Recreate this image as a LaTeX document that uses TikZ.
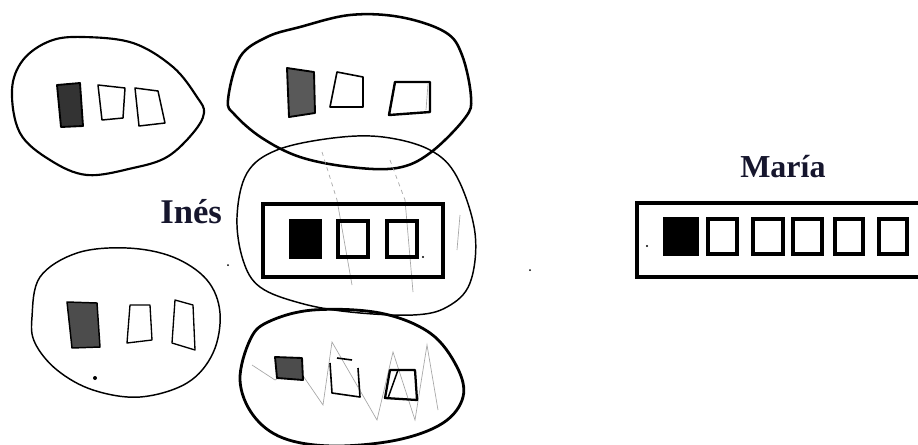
\documentclass[tikz,border=0pt]{standalone}
\usepackage{fontspec}
\setmainfont{Liberation Serif}
\definecolor{navy}{RGB}{22,22,45}
\begin{document}
\begin{tikzpicture}[x=0.75pt,y=-0.75pt,
  loop/.style={draw=black,line width=1.6pt,line join=round},
  thinloop/.style={draw=black,line width=1.1pt,line join=round},
  sq/.style={draw=black,line width=1.4pt,line join=round},
  fsq/.style={draw=black,line width=1.4pt,fill=black!80,line join=round},
  faint/.style={draw=black!35,line width=0.5pt},
  frame/.style={draw=black,line width=3pt},
  box/.style={draw=black,line width=2.6pt},
  fbox/.style={draw=black,line width=2.6pt,fill=black},
  lbl/.style={font=\fontsize{24}{28}\selectfont\bfseries,text=navy,inner sep=0pt}]
\useasboundingbox (0,0) rectangle (918,444);
\clip (0,0) rectangle (918,444);
\fill[white] (0,0) rectangle (918,444);

% ---- top-left loop
\draw[loop] plot[smooth cycle,tension=0.6] coordinates {(83,37) (133,43) (173,67) (197,97) (204,113) (193,133) (167,157) (133,168) (87,175) (50,160) (20,133) (12,90) (23,60) (50,41)};
\draw[fsq] (57,85) -- (80,83) -- (83,126) -- (61,127) -- cycle;
\draw[sq,line width=1.1pt] (98,85) -- (125,88) -- (123,118) -- (102,120) -- cycle;
\draw[sq,line width=1.1pt] (135,88) -- (158,91) -- (165,123) -- (139,126) -- cycle;

% ---- top-middle loop
\draw[loop,line width=1.9pt] plot[smooth cycle,tension=0.6] coordinates {(228,100) (240,57) (267,37) (300,27) (350,15) (400,17) (445,32) (462,55) (471,97) (465,118) (430,153) (397,168) (350,167) (300,157) (262,138) (235,115)};
\draw[fsq,fill=black!65] (287,68) -- (314,72) -- (315,113) -- (289,117) -- cycle;
\draw[sq,line width=1.2pt] (337,72) -- (363,77) -- (363,107) -- (330,107) -- cycle;
\draw[sq,line width=1.8pt] (395,82) -- (430,82) -- (430,112) -- (389,115) -- cycle;
\draw[faint] (428,84) -- (426,110);

% ---- middle loop (Ines)
\draw[thinloop] plot[smooth cycle,tension=0.6] coordinates {(237,217) (247,173) (277,150) (333,138) (383,137) (430,150) (457,177) (475,233) (470,283) (447,307) (413,315) (350,312) (300,303) (260,287) (243,260)};
\draw[faint,dashed] (322,152) -- (337,200);
\draw[faint] (337,200) -- (352,285);
\draw[faint,dashed] (390,160) -- (405,200);
\draw[faint] (405,200) -- (413,292);
\draw[faint] (460,215) -- (457,250);
\draw[frame] (263,204) rectangle (443,277);
\draw[fbox] (291,221) rectangle (320,257);
\draw[box] (338,221) rectangle (368,257);
\draw[box] (387,221) rectangle (417,257);
\fill (423,257) circle (1.2);
\node[lbl,font=\fontsize{26}{30}\selectfont\bfseries,anchor=base west] (ines) at (160,223) {Inés};

% ---- bottom-left loop
\draw[thinloop] plot[smooth cycle,tension=0.6] coordinates {(32,317) (40,277) (77,253) (127,248) (173,257) (207,280) (220,313) (213,353) (187,383) (140,397) (93,390) (57,370) (35,343)};
\draw[fsq,fill=black!70,line width=1.1pt] (67,302) -- (97,303) -- (100,347) -- (72,348) -- cycle;
\draw[sq,line width=1pt] (130,305) -- (150,305) -- (152,340) -- (127,343) -- cycle;
\draw[sq,line width=1pt] (175,300) -- (193,305) -- (195,350) -- (172,343) -- cycle;
\fill (95,378) circle (2);
\fill (228,265) circle (1);

% ---- bottom-middle loop
\draw[loop,line width=2.1pt] plot[smooth cycle,tension=0.6] coordinates {(240,380) (250,340) (268,322) (313,310) (380,313) (430,333) (457,367) (463,397) (443,423) (397,440) (333,446) (283,438) (253,415)};
\draw[faint] (252,365) -- (275,380) -- (297,367) -- (323,405) -- (332,342) -- (377,420) -- (393,352) -- (415,420) -- (427,345) -- (438,410);
\draw[fsq,fill=black!70] (275,357) -- (302,358) -- (303,380) -- (277,378) -- cycle;
\draw[sq,line width=1.2pt] (337,358) -- (352,360);
\draw[sq,line width=1.2pt] (330,363) -- (332,393) -- (360,397) -- (358,368);
\draw[sq,line width=1.7pt] (390,370) -- (415,370) -- (417,400) -- (385,398) -- cycle;
\draw[sq,line width=1.1pt] (398,370) -- (388,398);

% ---- Maria
\node[lbl,anchor=base west] (maria) at (740,177) {María};
\draw[frame,line width=2.4pt] (637,203) rectangle (935,277);
\draw[fbox] (665,219) rectangle (697,254);
\draw[box] (708,219) rectangle (737,254);
\draw[box] (753,219) rectangle (783,254);
\draw[box] (793,219) rectangle (822,254);
\draw[box] (835,219) rectangle (863,254);
\draw[box] (879,219) rectangle (907,254);
\fill (647,246) circle (1.2);
\fill (530,270) circle (1);
\end{tikzpicture}
\end{document}
